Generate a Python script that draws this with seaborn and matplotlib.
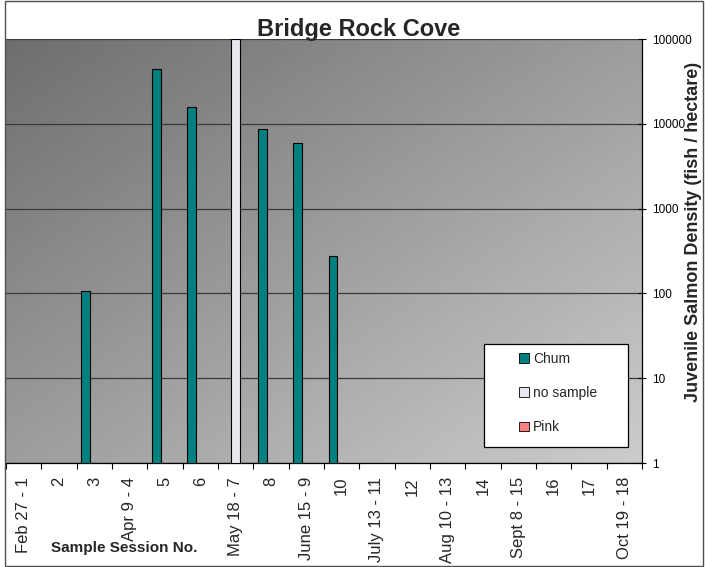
import numpy as np
import pandas as pd
import matplotlib
matplotlib.use("Agg")
import matplotlib.pyplot as plt
from matplotlib.patches import Rectangle
from matplotlib.ticker import FixedLocator, StrMethodFormatter, NullLocator
import seaborn as sns

# Sample sessions (date - session number)
sessions = ["Feb 27 - 1", "2", "3", "Apr 9 - 4", "5", "6", "May 18 - 7", "8",
            "June 15 - 9", "10", "July 13 - 11", "12", "Aug 10 - 13", "14",
            "Sept 8 - 15", "16", "17", "Oct 19 - 18"]

# Juvenile salmon density (fish / hectare); NaN = none caught
chum = [np.nan, np.nan, 107, np.nan, 43800, 15600, np.nan, 8600,
        6000, 277, np.nan, np.nan, np.nan, np.nan, np.nan, np.nan, np.nan, np.nan]
no_sample = [np.nan] * 6 + [100000] + [np.nan] * 11
pink = [np.nan] * 18

series_names = ["Chum", "no sample", "Pink"]
series_colors = {"Chum": "#008080", "no sample": "#e8e8ee", "Pink": "#ff8080"}
y_ticks = [1, 10, 100, 1000, 10000, 100000]

df = pd.concat([
    pd.DataFrame({"session": sessions, "series": name, "density": vals})
    for name, vals in zip(series_names, [chum, no_sample, pink])
], ignore_index=True)

sns.set_style("white")
plt.rcParams["font.family"] = ["Liberation Sans", "DejaVu Sans"]

W, H = 705, 567
fig = plt.figure(figsize=(W / 100, H / 100), dpi=100)
ax = fig.add_axes([6 / W, 1 - 463 / H, (642 - 6) / W, (463 - 39) / H])

# Diagonal grey gradient behind the plot area
gx, gy = np.meshgrid(np.linspace(0, 1, 300), np.linspace(0, 1, 300))
t = (gx + gy) / 2.0
grad = (0x6e + t * (0xcc - 0x6e)) / 255.0
ax.imshow(grad, cmap="gray", vmin=0, vmax=1, extent=[0, 1, 0, 1],
          transform=ax.transAxes, aspect="auto", zorder=0, origin="upper",
          interpolation="bilinear")

sns.barplot(data=df, x="session", y="density", hue="series",
            hue_order=series_names, order=sessions, palette=series_colors,
            width=0.73, gap=0, errorbar=None, edgecolor="black",
            linewidth=0.8, saturation=1, ax=ax, zorder=3)

ax.set_yscale("log")
ax.set_ylim(1, 100000)
ax.set_xlim(-0.5, len(sessions) - 0.5)

# Right-hand value axis
ax.yaxis.tick_right()
ax.yaxis.set_label_position("right")
ax.yaxis.set_major_locator(FixedLocator(y_ticks))
ax.yaxis.set_major_formatter(StrMethodFormatter("{x:.0f}"))
ax.yaxis.set_minor_locator(NullLocator())
ax.tick_params(axis="y", which="major", direction="inout", length=6,
               width=0.8, pad=4, labelsize=8.5, colors="black", right=True, left=False)
ax.grid(axis="y", which="major", color="#3a3a3a", linewidth=0.9, zorder=1)
ax.set_axisbelow(True)

# Category axis: labels at centres, tick marks between categories
ax.set_xticks(range(len(sessions)))
ax.set_xticklabels(sessions, rotation=90, fontsize=12)
ax.set_xticks(np.arange(-0.5, len(sessions), 1.0), minor=True)
ax.tick_params(axis="x", which="major", length=0, pad=10)
ax.tick_params(axis="x", which="minor", direction="out", length=4, width=0.8,
               color="black", bottom=True)

for side in ["top", "left"]:
    ax.spines[side].set_visible(False)
for side in ["bottom", "right"]:
    ax.spines[side].set_color("black")
    ax.spines[side].set_linewidth(0.9)

ax.set_xlabel("Sample Session No.", fontsize=11, fontweight="bold")
ax.xaxis.set_label_coords((124.5 - 6) / 636, (463 - 548) / 424)
ax.xaxis.label.set_va("center")
ax.set_ylabel("Juvenile Salmon Density (fish / hectare)", fontsize=13,
              fontweight="bold", rotation=90)
ax.yaxis.set_label_coords((694 - 6) / 636, (463 - 232) / 424)
ax.yaxis.label.set_va("center")
ax.yaxis.label.set_ha("center")

# Legend inside a white box at the lower right
handles, labels = ax.get_legend_handles_labels()
if ax.get_legend() is not None:
    ax.get_legend().remove()
box = Rectangle(((484 - 6) / 636, (463 - 447) / 424), (628 - 484) / 636,
                (447 - 344) / 424, transform=ax.transAxes, facecolor="white",
                edgecolor="black", linewidth=0.9, zorder=5)
ax.add_patch(box)
leg = ax.legend(handles, labels, loc="upper left",
                bbox_to_anchor=((519 - 6) / 636, (463 - 352) / 424),
                frameon=False, fontsize=10, handlelength=0.7, handleheight=0.7,
                handletextpad=0.3, labelspacing=1.45, borderpad=0,
                borderaxespad=0)
leg.set_zorder(6)
for h in leg.legend_handles:
    h.set_edgecolor("black")
    h.set_linewidth(0.6)

fig.text(359 / W, 1 - 36 / H, "Bridge Rock Cove", ha="center", va="baseline",
         fontsize=17, fontweight="bold")

# Outer chart border
fig.patches.append(Rectangle((4.5 / W, 1 - 566 / H), (703 - 4.5) / W, (566 - 1) / H,
                             transform=fig.transFigure, fill=False,
                             edgecolor="#505050", linewidth=1.0))

fig.savefig("out.png", dpi=100)
